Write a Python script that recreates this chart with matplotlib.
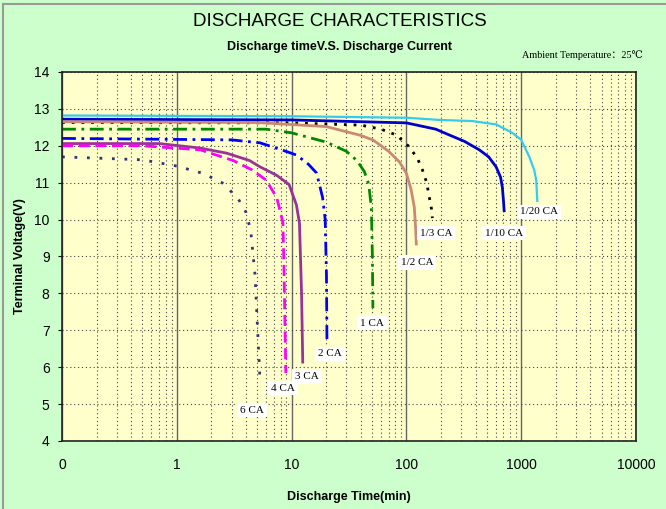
import numpy as np
import matplotlib
matplotlib.use("Agg")
import matplotlib.pyplot as plt
from matplotlib.lines import Line2D
from matplotlib.ticker import FixedLocator, LogLocator, NullFormatter

plt.rcParams['font.family'] = ['Liberation Sans', 'DejaVu Sans']

# discharge curves: time (min) vs terminal voltage (V)
t_20 = [0.1, 10, 100, 194, 375, 603, 836, 1000, 1175, 1297, 1350, 1380]
v_20 = [12.82, 12.8, 12.76, 12.7, 12.67, 12.58, 12.35, 12.16, 11.7, 11.34, 11.07, 10.48]
t_10 = [0.1, 10, 100, 180, 237, 320, 431, 520, 603, 660, 684, 700, 711]
v_10 = [12.72, 12.7, 12.62, 12.45, 12.29, 12.12, 11.89, 11.7, 11.43, 11.15, 10.88, 10.5, 10.2]
t_3 = [0.1, 10, 40, 60, 82, 106, 125, 138, 150, 158, 165, 168]
v_3 = [12.63, 12.62, 12.56, 12.45, 12.29, 11.97, 11.65, 11.34, 11.0, 10.61, 10.3, 10.04]
t_2 = [0.1, 5, 20, 39, 51, 70, 87, 100, 110, 117, 120, 122]
v_2 = [12.65, 12.63, 12.52, 12.29, 12.16, 11.85, 11.56, 11.25, 10.8, 10.34, 9.8, 9.3]
t_1 = [0.1, 6, 10, 20, 30, 37, 43, 47, 49.5, 50.5, 51]
v_1 = [12.45, 12.45, 12.35, 12.1, 11.85, 11.6, 11.3, 10.95, 10.3, 9.0, 7.6]
t_2c = [0.1, 3, 5.3, 8, 11, 14, 16.5, 18.6, 19.6, 20.1, 20.3]
v_2c = [12.2, 12.16, 12.08, 11.9, 11.75, 11.5, 11.26, 10.6, 10.0, 8.5, 6.74]
t_3c = [0.1, 0.7, 1.58, 2.72, 4.3, 5.3, 7.4, 9.5, 11.0, 11.7, 12.2, 12.5]
v_3c = [12.06, 12.06, 11.94, 11.8, 11.6, 11.43, 11.2, 10.95, 10.4, 9.9, 8.0, 6.1]
t_4c = [0.1, 0.5, 1.6, 3.1, 4.5, 6.0, 7.4, 8.0, 8.4, 8.6, 8.9]
v_4c = [12.0, 12.0, 11.89, 11.6, 11.35, 11.07, 10.6, 10.2, 9.9, 8.5, 5.84]
t_6c = [0.1, 0.5, 1.0, 1.7, 2.5, 3.4, 4.0, 4.4, 4.8, 5.3]
v_6c = [11.7, 11.62, 11.45, 11.25, 10.99, 10.58, 10.2, 9.7, 8.5, 5.65]

labels = ['1/20 CA', '1/10 CA', '1/3 CA', '1/2 CA', '1 CA', '2 CA', '3 CA', '4 CA', '6 CA']
x_ticks = [0.1, 1, 10, 100, 1000, 10000]
x_ticklabels = ['0', '1', '10', '100', '1000', '10000']
y_ticks = [4, 5, 6, 7, 8, 9, 10, 11, 12, 13, 14]

series = [
    (t_20, v_20, dict(color='#33ccee', lw=1.6, ls='-'), (2, -10)),
    (t_10, v_10, dict(color='#0000cc', lw=2, ls='-'), (0, -21)),
    (t_3, v_3, dict(color='#000000', lw=2, ls=(0, (1, 2.5))), (4, -15)),
    (t_2, v_2, dict(color='#cc8877', lw=2, ls='-'), (1, -17)),
    (t_1, v_1, dict(color='#008800', lw=2, ls=(0, (5, 2, 1, 2))), (-1, -15)),
    (t_2c, v_2c, dict(color='#0000ff', lw=2, ls=(0, (5, 2, 1, 2))), (3, -14)),
    (t_3c, v_3c, dict(color='#993399', lw=2, ls='-'), (4, -13)),
    (t_4c, v_4c, dict(color='#ff00ff', lw=2, ls=(0, (4, 2))), (-3, -15)),
    (t_6c, v_6c, dict(color='#333377', lw=2, ls=(0, (1, 3.5))), (-8, -30)),
]

fig = plt.figure(figsize=(6.66, 5.09), dpi=100, facecolor='#ccffcc')
ax = fig.add_axes([0.0931, 0.1336, 0.862, 0.725], facecolor='#ffffcc')

ax.set_xscale('log')
ax.set_xlim(0.1, 10000)
ax.set_ylim(4, 14)

# grid
ax.xaxis.set_minor_locator(LogLocator(base=10, subs=np.arange(2, 10)))
ax.xaxis.set_minor_formatter(NullFormatter())
ax.grid(which='minor', axis='x', color='#444444', ls=(0, (1, 2.5)), lw=0.8)
ax.grid(which='major', axis='x', color='#666666', ls='-', lw=1)
ax.grid(which='major', axis='y', color='#444444', ls=(0, (1, 2.5)), lw=0.8)
ax.set_axisbelow(True)

for (t, v, style, off), lab in zip(series, labels):
    ax.plot(t, v, solid_capstyle='butt', dash_capstyle='butt', **style)
    ax.annotate(lab, xy=(t[-1], v[-1]), xytext=off, textcoords='offset pixels',
                ha='center', va='center', fontsize=8,
                family=['Liberation Serif', 'DejaVu Serif'],
                bbox=dict(boxstyle='square,pad=0.25', fc='white', ec='none'))

ax.xaxis.set_major_locator(FixedLocator(x_ticks))
ax.set_xticklabels(x_ticklabels)
ax.set_yticks(y_ticks)
ax.tick_params(axis='x', which='both', length=0, pad=12, labelsize=10)
ax.tick_params(axis='y', length=3, pad=6, labelsize=10)

for s in ax.spines.values():
    s.set_color('#222222')
    s.set_linewidth(1.2)

ax.set_xlabel('Discharge Time(min)', fontsize=9, fontweight='bold', labelpad=14)
ax.set_ylabel('Terminal Voltage(V)', fontsize=9, fontweight='bold', labelpad=6)

fig.text(0.51, 0.957, 'DISCHARGE CHARACTERISTICS', ha='center', va='center', fontsize=13.5)
fig.text(0.51, 0.908, 'Discharge timeV.S. Discharge Current', ha='center', va='center',
         fontsize=9, fontweight='bold')
fig.text(0.965, 0.892, 'Ambient Temperature：25℃', ha='right', va='center', fontsize=7.3,
         family=['Liberation Serif', 'DejaVu Serif', 'Noto Sans CJK SC'])

# outer frame
fig.add_artist(Line2D([0.005, 1], [0.992, 0.992], transform=fig.transFigure, color='#999999', lw=1.5))
fig.add_artist(Line2D([0.005, 0.005], [0, 0.992], transform=fig.transFigure, color='#999999', lw=1.5))

fig.savefig('out.png', dpi=100, facecolor=fig.get_facecolor())
